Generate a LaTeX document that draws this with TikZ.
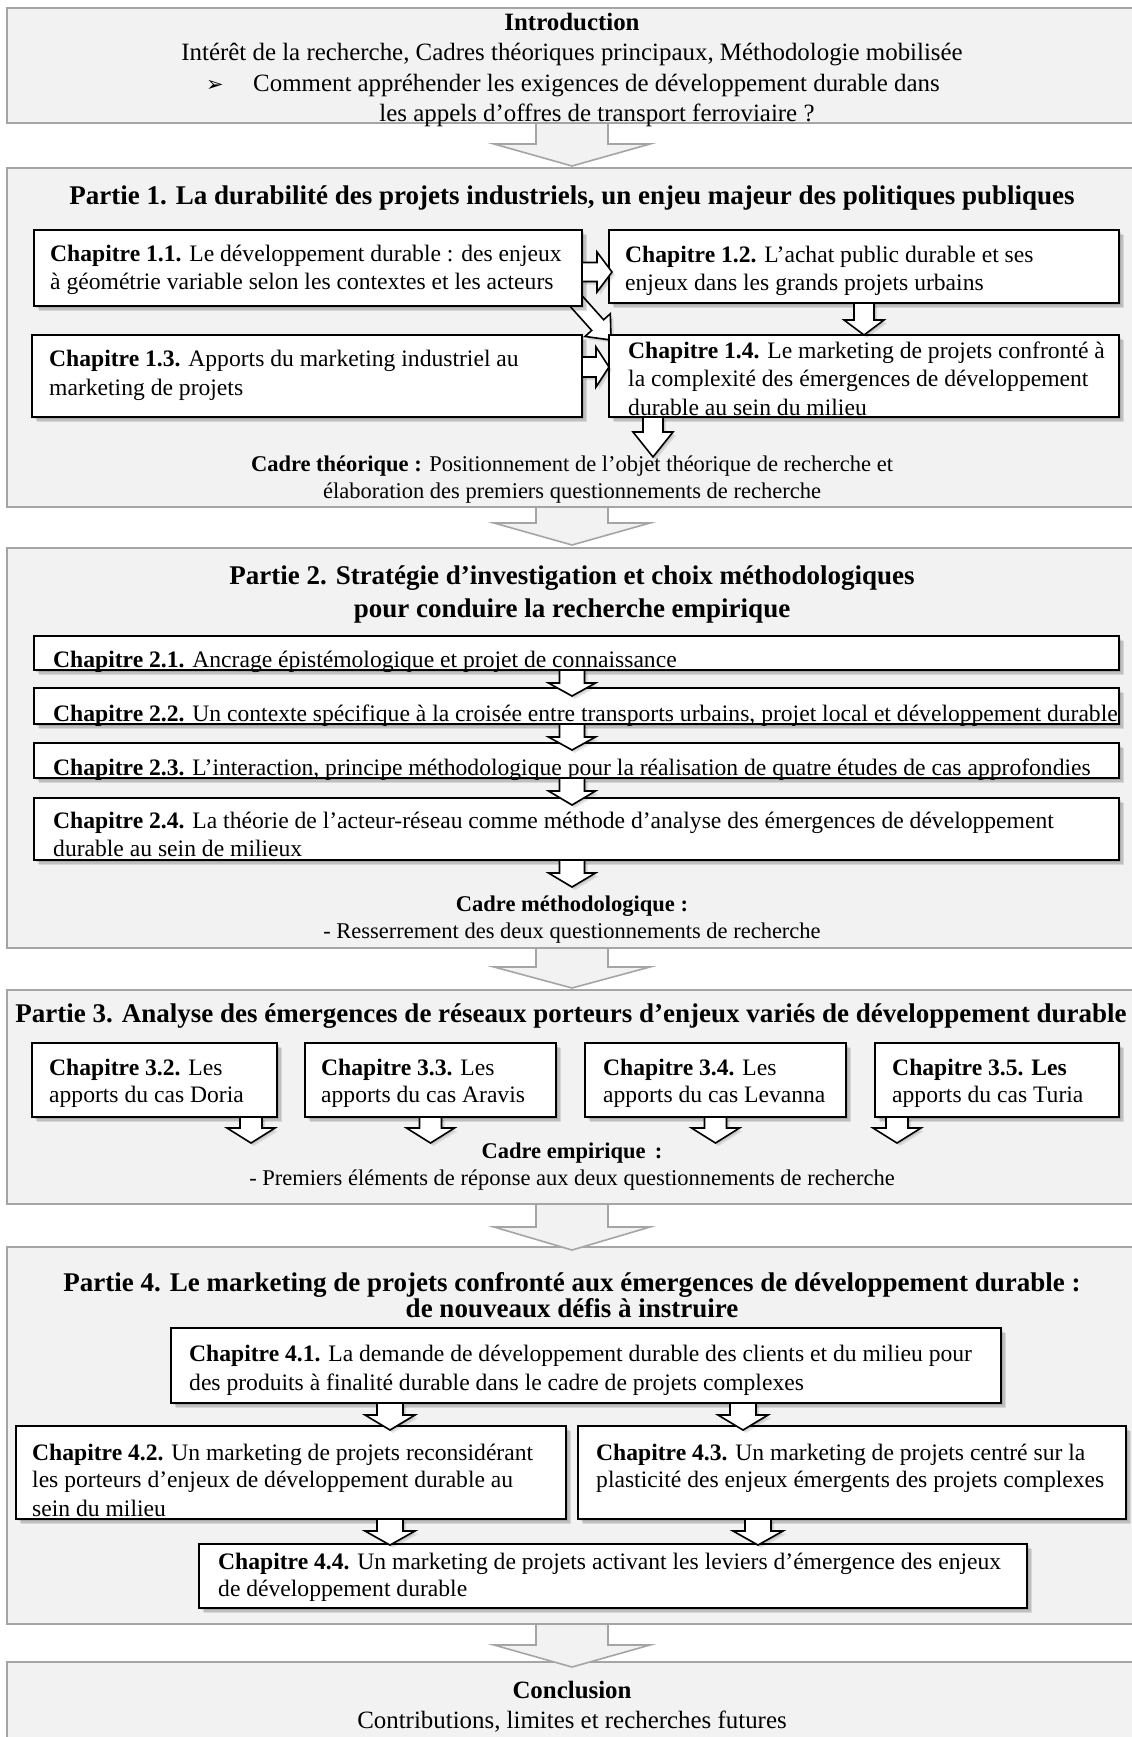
\documentclass[tikz,border=0pt]{standalone}
\usepackage{fontspec}
\setmainfont{Liberation Serif}
\newfontfamily\djv{DejaVu Sans}
\usetikzlibrary{calc}
\definecolor{partfill}{HTML}{F2F2F2}
\definecolor{partdraw}{HTML}{A5A5A5}
% block arrow: [style]{from}{to}{shaft half width}{head half width}{head length}
\newcommand\blockarr[6][]{%
  \draw[#1] let \p1=(#2), \p2=(#3), \n1={atan2(\y2-\y1,\x2-\x1)}, \n2={veclen(\x2-\x1,\y2-\y1)} in
    [shift={(\p1)}, rotate=\n1]
    (0,#4) -- ({\n2-#6},#4) -- ({\n2-#6},#5) -- (\n2,0) -- ({\n2-#6},-#5) -- ({\n2-#6},-#4) -- (0,-#4) -- cycle;}
\newcommand\chapbox[5]{\node[chap, minimum width={#4-#2}, minimum height={#5-#3}] (#1) at (#2,#3) {};}
\newcommand\partbox[3]{\node[part, minimum width=1150, minimum height={#3}] (#1) at (7,#2) {};}
\newcommand\txl[5][]{\node[txtl,#1] (#2) at (#3,#4) {#5};}
\newcommand\txc[5][]{\node[txtc,#1] (#2) at (#3,#4) {#5};}
\begin{document}
\begin{tikzpicture}[x=1pt,y=-1pt,
  shd/.style={preaction={fill=black, opacity=#1, transform canvas={shift={(5pt,-5pt)}}},
              preaction={fill=black, opacity=#1, transform canvas={shift={(3.5pt,-3.5pt)}}},
              preaction={fill=black, opacity=#1, transform canvas={shift={(2pt,-2pt)}}}},
  part/.style={draw=partdraw, fill=partfill, line width=2pt, anchor=north west, inner sep=0pt, outer sep=0pt},
  chap/.style={draw=black, fill=white, line width=2pt, anchor=north west, inner sep=0pt, outer sep=0pt, shd=0.11},
  txtl/.style={anchor=base west, inner sep=0pt, font=\fontsize{23.6}{28}\selectfont},
  txtc/.style={anchor=base, inner sep=0pt, font=\fontsize{23.6}{28}\selectfont},
  titlef/.style={font=\fontsize{27}{32}\selectfont\bfseries},
  introf/.style={font=\fontsize{24.9}{30}\selectfont},
  cadref/.style={font=\fontsize{22.5}{27}\selectfont},
  bigarr/.style={draw=partdraw, fill=partfill, line width=1.6pt, line join=miter},
  sarr/.style={draw=black, fill=white, line width=1.6pt, line join=miter,
    preaction={fill=black, opacity=0.1, transform canvas={shift={(3pt,-3pt)}}},
    preaction={fill=black, opacity=0.1, transform canvas={shift={(1.5pt,-1.5pt)}}}},
]
\clip (0,0) rectangle (1132,1737);
\fill[white] (0,0) rectangle (1132,1737);
\coordinate (xc) at (572,0);

\partbox{intro}{8}{115}
\partbox{p1}{168}{339}
\partbox{p2}{548}{400}
\partbox{p3}{990}{214}
\partbox{p4}{1247}{377}
\partbox{concl}{1662}{120}

% Introduction
\txc[introf]{intro1}{572}{31}{\textbf{Introduction}}
\txc[introf]{intro2}{572}{61}{Intérêt de la recherche, Cadres théoriques principaux, Méthodologie mobilisée}
\txl{intro3a}{206}{91}{{\djv\fontsize{21}{24}\selectfont ➢}}
\txl[introf]{intro3b}{253}{91}{Comment appréhender les exigences de développement durable dans}
\txc[introf]{intro4}{597}{121}{les appels d’offres de transport ferroviaire ?}

% Partie 1
\txc[titlef]{p1t}{572}{204}{Partie 1. La durabilité des projets industriels, un enjeu majeur des politiques publiques}
% diagonal arrow drawn first, its ends hidden under the two boxes
\coordinate (d11) at (568,292);
\coordinate (d14) at (611,340);
\blockarr[sarr]{d11}{d14}{8}{17}{20}
\chapbox{c11}{34}{230}{582}{306}
\chapbox{c12}{609}{230}{1119}{303}
\chapbox{c13}{32}{335}{582}{417}
\chapbox{c14}{609}{335}{1119}{417}
\txl{c11a}{50}{261}{\textbf{Chapitre 1.1.} Le développement durable : des enjeux}
\txl{c11b}{50}{289}{à géométrie variable selon les contextes et les acteurs}
\txl{c12a}{625}{262}{\textbf{Chapitre 1.2.} L’achat public durable et ses}
\txl{c12b}{625}{290}{enjeux dans les grands projets urbains}
\txl{c13a}{49}{366}{\textbf{Chapitre 1.3.} Apports du marketing industriel au}
\txl{c13b}{49}{395}{marketing de projets}
\txl{c14a}{628}{358}{\textbf{Chapitre 1.4.} Le marketing de projets confronté à}
\txl{c14b}{628}{386}{la complexité des émergences de développement}
\txl{c14c}{628}{415}{durable au sein du milieu}
\blockarr[sarr]{$(c11.north east)+(0,42)$}{$(c12.north west)+(3,42)$}{9.5}{20}{15}
\blockarr[sarr]{$(c13.north east)+(0,32)$}{$(c14.north west)+(0,32)$}{10}{20}{13}
\blockarr[sarr]{c12.south}{c12.south |- c14.north}{10}{20}{15}
\blockarr[sarr]{$(c14.south west)+(44,0)$}{$(c14.south west)+(44,40)$}{10}{20}{25}
\txc[cadref]{cd1a}{572}{471}{\textbf{Cadre théorique :} Positionnement de l’objet théorique de recherche et}
\txc[cadref]{cd1b}{572}{498}{élaboration des premiers questionnements de recherche}

% Partie 2
\txc[titlef]{p2t}{572}{584}{Partie 2. Stratégie d’investigation et choix méthodologiques}
\txc[titlef]{p2u}{572}{617}{pour conduire la recherche empirique}
\chapbox{c21}{34}{636}{1119}{670}
\chapbox{c22}{34}{688}{1119}{724}
\chapbox{c23}{34}{743}{1119}{778}
\chapbox{c24}{34}{798}{1119}{860}
\txl{c21a}{53}{667}{\textbf{Chapitre 2.1.} Ancrage épistémologique et projet de connaissance}
\txl{c22a}{53}{721}{\textbf{Chapitre 2.2.} Un contexte spécifique à la croisée entre transports urbains, projet local et développement durable}
\txl{c23a}{53}{775}{\textbf{Chapitre 2.3.} L’interaction, principe méthodologique pour la réalisation de quatre études de cas approfondies}
\txl{c24a}{53}{828}{\textbf{Chapitre 2.4.} La théorie de l’acteur-réseau comme méthode d’analyse des émergences de développement}
\txl{c24b}{53}{856}{durable au sein de milieux}
\blockarr[sarr]{c21.south -| xc}{$(c22.north -| xc)+(0,8)$}{12.5}{23.5}{13}
\blockarr[sarr]{c22.south -| xc}{$(c23.north -| xc)+(0,7)$}{12.5}{23.5}{13}
\blockarr[sarr]{c23.south -| xc}{$(c24.north -| xc)+(0,7)$}{12.5}{23.5}{14}
\blockarr[sarr]{c24.south -| xc}{$(c24.south -| xc)+(0,27)$}{12.5}{23.5}{14}
\txc[cadref]{cd2a}{572}{911}{\textbf{Cadre méthodologique :}}
\txc[cadref]{cd2b}{572}{938}{- Resserrement des deux questionnements de recherche}

% Partie 3
\txc[titlef]{p3t}{571}{1022}{Partie 3. Analyse des émergences de réseaux porteurs d’enjeux variés de développement durable}
\chapbox{c32}{32}{1043}{277}{1117}
\chapbox{c33}{305}{1043}{556}{1117}
\chapbox{c34}{585}{1043}{846}{1117}
\chapbox{c35}{875}{1043}{1119}{1117}
\txl{c32a}{49}{1075}{\textbf{Chapitre 3.2.} Les}
\txl{c32b}{49}{1102}{apports du cas Doria}
\txl{c33a}{321}{1075}{\textbf{Chapitre 3.3.} Les}
\txl{c33b}{321}{1102}{apports du cas Aravis}
\txl{c34a}{603}{1075}{\textbf{Chapitre 3.4.} Les}
\txl{c34b}{603}{1102}{apports du cas Levanna}
\txl{c35a}{892}{1075}{\textbf{Chapitre 3.5. Les}}
\txl{c35b}{892}{1102}{apports du cas Turia}
\blockarr[sarr]{$(c32.south east)+(-26,0)$}{$(c32.south east)+(-26,26)$}{11}{24}{15}
\blockarr[sarr]{c33.south}{$(c33.south)+(0,26)$}{11}{24}{15}
\blockarr[sarr]{c34.south}{$(c34.south)+(0,26)$}{11}{24}{15}
\blockarr[sarr]{$(c35.south west)+(22,0)$}{$(c35.south west)+(22,26)$}{11}{24}{15}
\txc[cadref]{cd3a}{572}{1158}{\textbf{Cadre empirique \,:}}
\txc[cadref]{cd3b}{572}{1185}{- Premiers éléments de réponse aux deux questionnements de recherche}

% Partie 4
\txc[titlef]{p4t}{572}{1291}{Partie 4. Le marketing de projets confronté aux émergences de développement durable :}
\txc[titlef]{p4u}{572}{1317}{de nouveaux défis à instruire}
\chapbox{c41}{171}{1328}{1001}{1403}
\chapbox{c42}{16}{1426}{566}{1519}
\chapbox{c43}{578}{1426}{1126}{1519}
\chapbox{c44}{199}{1544}{1027}{1608}
\txl{c41a}{189}{1361}{\textbf{Chapitre 4.1.} La demande de développement durable des clients et du milieu pour}
\txl{c41b}{189}{1390}{des produits à finalité durable dans le cadre de projets complexes}
\txl{c42a}{32}{1460}{\textbf{Chapitre 4.2.} Un marketing de projets reconsidérant}
\txl{c42b}{32}{1487}{les porteurs d’enjeux de développement durable au}
\txl{c42c}{32}{1516}{sein du milieu}
\txl{c43a}{596}{1460}{\textbf{Chapitre 4.3.} Un marketing de projets centré sur la}
\txl{c43b}{596}{1487}{plasticité des enjeux émergents des projets complexes}
\txl{c44a}{218}{1569}{\textbf{Chapitre 4.4.} Un marketing de projets activant les leviers d’émergence des enjeux}
\txl{c44b}{218}{1596}{de développement durable}
\blockarr[sarr]{$(c41.south west)+(219,0)$}{$(c42.north west)+(374,4)$}{13}{25}{15}
\blockarr[sarr]{$(c41.south west)+(572,0)$}{$(c43.north west)+(165,4)$}{13}{25}{15}
\blockarr[sarr]{$(c42.south west)+(374,0)$}{$(c44.north west)+(191,1)$}{13}{25}{14}
\blockarr[sarr]{$(c43.south west)+(180,0)$}{$(c44.north west)+(559,1)$}{13}{25}{14}

% Conclusion
\txc[introf]{cc1}{572}{1698}{\textbf{Conclusion}}
\txc[introf]{cc2}{572}{1728}{Contributions, limites et recherches futures}

% big arrows between parts
\blockarr[bigarr]{intro.south -| xc}{$(p1.north -| xc)+(0,-2)$}{36}{78}{22}
\blockarr[bigarr]{p1.south -| xc}{$(p2.north -| xc)+(0,-3)$}{36}{78}{22}
\blockarr[bigarr]{p2.south -| xc}{$(p3.north -| xc)+(0,-2)$}{36}{78}{21}
\blockarr[bigarr]{p3.south -| xc}{$(p4.north -| xc)+(0,3)$}{36}{78}{23}
\blockarr[bigarr]{p4.south -| xc}{$(concl.north -| xc)+(0,5)$}{36}{78}{22}
\end{tikzpicture}
\end{document}
